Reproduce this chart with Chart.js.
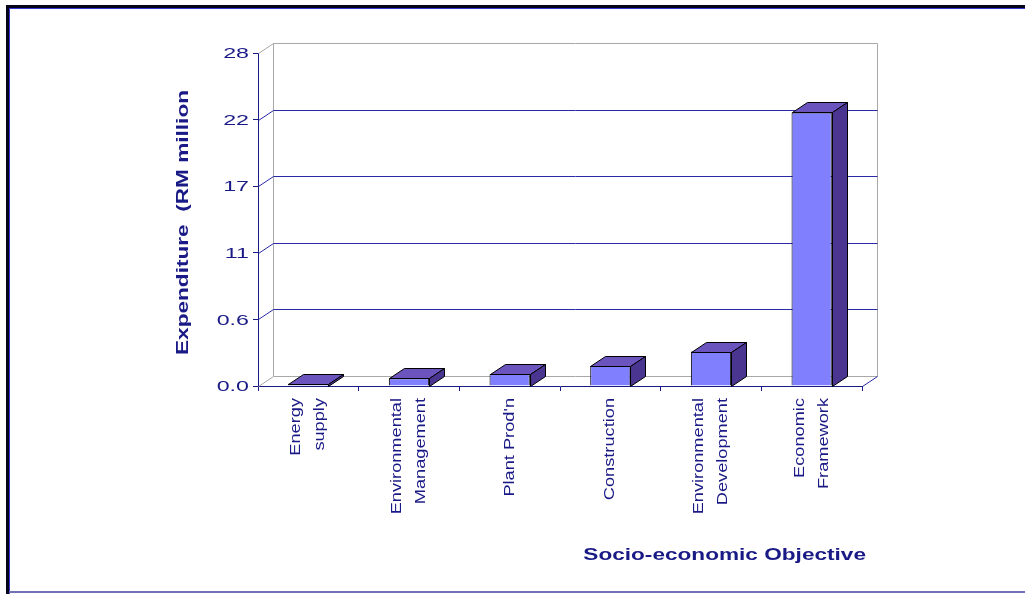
<!DOCTYPE html>
<html>
<head>
<meta charset="utf-8">
<script src="https://cdn.jsdelivr.net/npm/chart.js@4/dist/chart.umd.min.js"></script>
<style>
  html, body { margin: 0; padding: 0; background: #fff; }
  #wrap { width: 1025px; height: 594px; position: relative; }
</style>
</head>
<body>
<div id="wrap"><canvas id="myChart" width="1025" height="594"></canvas></div>
<script>
const categories = [
  ["Energy", "supply"],
  ["Environmental", "Management"],
  ["Plant Prod'n"],
  ["Construction"],
  ["Environmental", "Development"],
  ["Economic", "Framework"]
];
const expenditure = [0.2, 0.65, 1.0, 1.7, 2.9, 23.0];
const yTickValues = [0, 5.6, 11.2, 16.8, 22.4, 28];
const yTickLabels = ["0.0", "0.6", "11", "17", "22", "28"];
const yTitle = "Expenditure  (RM million";
const xTitle = "Socio-economic Objective";

const navy = "#1a1a86";
const gridBlue = "#2a2aa8";
const dx = 15, dy = -10;
const FONT = "'Liberation Sans', Arial, sans-serif";

// the old chart uses a wide bitmap font, so text is stretched along its run
function wideText(ctx, text, x, y, rot, sx, align, baseline) {
  ctx.save();
  ctx.translate(x, y);
  ctx.rotate(rot);
  ctx.scale(sx, 1);
  ctx.textAlign = align;
  ctx.textBaseline = baseline;
  ctx.fillText(text, 0, 0);
  ctx.restore();
}

// page frame
const framePlugin = {
  id: "frame",
  beforeDraw(chart) {
    const ctx = chart.ctx;
    ctx.save();
    ctx.fillStyle = "#fff";
    ctx.fillRect(0, 0, chart.width, chart.height);
    ctx.fillStyle = "#05051a";
    ctx.fillRect(6, 5, 3, 589);
    ctx.fillRect(6, 5, 1019, 3);
    ctx.fillStyle = "#3535d0";
    ctx.fillRect(9, 8, 1, 586);
    ctx.fillRect(9, 8, 1016, 1);
    ctx.fillStyle = "#7070b8";
    ctx.fillRect(9, 591, 1016, 2);
    ctx.restore();
  }
};

// back walls, floor, gridlines and bar depth
const wallPlugin = {
  id: "wall3d",
  beforeDatasetsDraw(chart) {
    const { ctx, chartArea: a, scales: { y } } = chart;
    const L = Math.round(a.left) + 0.5, R = Math.round(a.right) + 0.5;
    const T = Math.round(y.getPixelForValue(28)) + 0.5;
    const B = Math.round(y.getPixelForValue(0)) + 0.5;
    ctx.save();
    ctx.lineWidth = 1;
    ctx.strokeStyle = "#a8a8a8";
    ctx.beginPath();
    ctx.moveTo(L, T); ctx.lineTo(L + dx, T + dy); ctx.lineTo(R + dx, T + dy); ctx.lineTo(R + dx, B + dy);
    ctx.lineTo(L + dx, B + dy); ctx.lineTo(L + dx, T + dy);
    ctx.moveTo(L, B); ctx.lineTo(L + dx, B + dy);
    ctx.stroke();
    ctx.strokeStyle = gridBlue;
    ctx.beginPath();
    ctx.moveTo(R, B); ctx.lineTo(R + dx, B + dy);
    yTickValues.slice(1, -1).forEach(v => {
      const py = Math.round(y.getPixelForValue(v)) + 0.5;
      ctx.moveTo(L, py); ctx.lineTo(L + dx, py + dy); ctx.lineTo(R + dx, py + dy);
    });
    ctx.stroke();
    ctx.restore();
  },
  afterDatasetsDraw(chart) {
    const ctx = chart.ctx;
    ctx.save();
    ctx.lineWidth = 1;
    ctx.strokeStyle = "#000";
    chart.getDatasetMeta(0).data.forEach(bar => {
      const l = Math.round(bar.x - bar.width / 2) + 0.5;
      const r = Math.round(bar.x + bar.width / 2) + 0.5;
      const t = Math.round(bar.y) + 0.5, b = Math.round(bar.base) + 0.5;
      ctx.fillStyle = "#6c54bf";
      ctx.beginPath();
      ctx.moveTo(l, t); ctx.lineTo(l + dx, t + dy); ctx.lineTo(r + dx, t + dy); ctx.lineTo(r, t); ctx.closePath();
      ctx.fill(); ctx.stroke();
      ctx.fillStyle = "#4a3590";
      ctx.beginPath();
      ctx.moveTo(r, t); ctx.lineTo(r + dx, t + dy); ctx.lineTo(r + dx, b + dy); ctx.lineTo(r, b); ctx.closePath();
      ctx.fill(); ctx.stroke();
    });
    ctx.restore();
  }
};

// tick labels and axis titles
const textPlugin = {
  id: "wideLabels",
  afterDraw(chart) {
    const { ctx, chartArea: a, scales: { x, y } } = chart;
    ctx.save();
    ctx.fillStyle = navy;

    ctx.font = "15px " + FONT;
    yTickValues.forEach((v, i) => {
      wideText(ctx, yTickLabels[i], a.left - 9, y.getPixelForValue(v) + 1, 0, 1.55, "right", "middle");
    });

    ctx.font = "14px " + FONT;
    const gap = 24;
    categories.forEach((lines, i) => {
      const cx = x.getPixelForValue(i);
      lines.forEach((s, j) => {
        const lx = cx + (j - (lines.length - 1) / 2) * gap;
        wideText(ctx, s, lx, a.bottom + 12, -Math.PI / 2, 1.3, "right", "middle");
      });
    });

    ctx.font = "bold 17px " + FONT;
    wideText(ctx, yTitle, 183, (a.top + a.bottom) / 2 + 3, -Math.PI / 2, 1.33, "center", "middle");
    wideText(ctx, xTitle, a.right + 4, 555, 0, 1.33, "right", "middle");
    ctx.restore();
  }
};

const config = {
  type: "bar",
  data: {
    labels: categories,
    datasets: [{
      label: "Expenditure",
      data: expenditure,
      backgroundColor: "#8080ff",
      borderColor: "#000",
      borderWidth: 1,
      categoryPercentage: 1,
      barPercentage: 0.4
    }]
  },
  options: {
    responsive: false,
    animation: false,
    events: [],
    layout: { padding: { left: 169, right: 163, top: 53, bottom: 25 } },
    plugins: { legend: { display: false }, tooltip: { enabled: false } },
    scales: {
      x: {
        afterFit: s => { s.height = 183; },
        border: { color: navy, width: 1 },
        grid: { drawOnChartArea: false, drawTicks: true, tickLength: 5, color: navy, offset: true },
        ticks: { display: false }
      },
      y: {
        min: 0, max: 28,
        afterFit: s => { s.width = 89; },
        afterBuildTicks: s => { s.ticks = yTickValues.map(v => ({ value: v })); },
        border: { color: navy, width: 1 },
        grid: { drawOnChartArea: false, drawTicks: true, tickLength: 5, color: navy },
        ticks: { display: false }
      }
    }
  },
  plugins: [framePlugin, wallPlugin, textPlugin]
};

const myChart = new Chart(document.getElementById("myChart"), config);
</script>
</body>
</html>
